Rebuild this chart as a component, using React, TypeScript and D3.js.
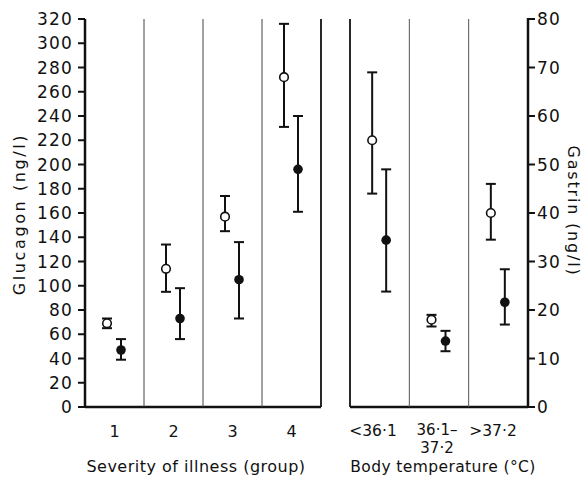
import React from "react";
import * as d3 from "d3";

const severityGroups = ["1", "2", "3", "4"];
const sevOpenMean = [69, 114, 157, 272];
const sevOpenLo = [65, 95, 145, 231];
const sevOpenHi = [73, 134, 174, 316];
const sevFilledMean = [47, 73, 105, 196];
const sevFilledLo = [39, 56, 73, 161];
const sevFilledHi = [56, 98, 136, 240];

const tempGroups = ["<36·1", "36·1–37·2", ">37·2"];
const tempOpenMean = [55, 18, 40];
const tempOpenLo = [44, 16.6, 34.5];
const tempOpenHi = [69, 19, 46];
const tempFilledMean = [34.4, 13.6, 21.6];
const tempFilledLo = [23.8, 11.5, 17];
const tempFilledHi = [49, 15.7, 28.4];

const glucagonTicks = d3.range(0, 321, 20);
const gastrinTicks = d3.range(0, 81, 10);

const FONT = "'DejaVu Sans', sans-serif";

export default function App() {
  const top = 19;
  const bottom = 407;
  const yGlu = d3.scaleLinear().domain([0, 320]).range([bottom, top]);
  const yGas = d3.scaleLinear().domain([0, 80]).range([bottom, top]);
  const xSev = d3.scaleBand<string>().domain(severityGroups).range([85, 321]);
  const xTemp = d3.scaleBand<string>().domain(tempGroups).range([350, 528]);
  const openOff = -7.5;
  const fillOff = 6.5;
  const cap = 5;

  const errBar = (x: number, lo: number, hi: number, key: string) => (
    <g key={key} stroke="#111" strokeWidth={2}>
      <line x1={x} x2={x} y1={lo} y2={hi} />
      <line x1={x - cap} x2={x + cap} y1={lo} y2={lo} />
      <line x1={x - cap} x2={x + cap} y1={hi} y2={hi} />
    </g>
  );

  return (
    <svg
      width={585}
      height={479}
      style={{ position: "absolute", left: 0, top: 0, background: "#fff" }}
      fontFamily={FONT}
    >
      <rect width={585} height={479} fill="#fff" />
      {/* left panel frame */}
      <line x1={85} x2={85} y1={top} y2={bottom + 1} stroke="#111" strokeWidth={2.5} />
      <line x1={85} x2={321} y1={bottom} y2={bottom} stroke="#111" strokeWidth={2.5} />
      <line x1={321} x2={321} y1={top} y2={bottom} stroke="#111" strokeWidth={1.8} />
      {severityGroups.slice(1).map((g) => (
        <line key={g} x1={xSev(g)!} x2={xSev(g)!} y1={top} y2={bottom} stroke="#444" strokeWidth={1} />
      ))}
      {glucagonTicks.map((t) => (
        <g key={t}>
          <line x1={78} x2={85} y1={yGlu(t)} y2={yGlu(t)} stroke="#111" strokeWidth={2} />
          <text x={73} y={yGlu(t)} dy="0.36em" textAnchor="end" fontSize={17} letterSpacing={1.2} fill="#111">
            {t}
          </text>
        </g>
      ))}
      {severityGroups.map((g) => (
        <text key={g} x={xSev(g)! + xSev.bandwidth() / 2} y={437} textAnchor="middle" fontSize={16} fill="#111">
          {g}
        </text>
      ))}
      <text x={196} y={472} textAnchor="middle" fontSize={16} fill="#111" letterSpacing={0.5}>
        Severity of illness (group)
      </text>
      <text transform="translate(25,214) rotate(-90)" textAnchor="middle" fontSize={16} fill="#111" letterSpacing={2.6}>
        Glucagon (ng/l)
      </text>

      {/* right panel frame */}
      <line x1={350} x2={350} y1={top} y2={bottom} stroke="#111" strokeWidth={1.8} />
      <line x1={350} x2={528} y1={bottom} y2={bottom} stroke="#111" strokeWidth={2.5} />
      <line x1={528} x2={528} y1={top - 1} y2={bottom + 1} stroke="#111" strokeWidth={2.5} />
      {tempGroups.slice(1).map((g) => (
        <line key={g} x1={xTemp(g)!} x2={xTemp(g)!} y1={top} y2={bottom} stroke="#555" strokeWidth={1} />
      ))}
      {gastrinTicks.map((t) => (
        <g key={t}>
          <line x1={528} x2={535} y1={yGas(t)} y2={yGas(t)} stroke="#111" strokeWidth={2} />
          <text x={537} y={yGas(t)} dy="0.36em" textAnchor="start" fontSize={17} letterSpacing={1.2} fill="#111">
            {t}
          </text>
        </g>
      ))}
      <text x={373} y={436} textAnchor="middle" fontSize={15.5} fill="#111">{tempGroups[0]}</text>
      <text x={437} y={435} textAnchor="middle" fontSize={15} fill="#111">36·1–</text>
      <text x={437} y={453} textAnchor="middle" fontSize={15} fill="#111">37·2</text>
      <text x={493} y={436} textAnchor="middle" fontSize={15.5} fill="#111">{tempGroups[2]}</text>
      <text x={443} y={472} textAnchor="middle" fontSize={15.5} fill="#111" letterSpacing={0.4}>
        Body temperature (°C)
      </text>
      <text transform="translate(568,211) rotate(90)" textAnchor="middle" fontSize={16} fill="#111" letterSpacing={1.8}>
        Gastrin (ng/l)
      </text>

      {/* severity data */}
      {severityGroups.map((g, i) => {
        const c = xSev(g)! + xSev.bandwidth() / 2;
        return (
          <g key={"s" + g}>
            {errBar(c + openOff, yGlu(sevOpenLo[i]), yGlu(sevOpenHi[i]), "o")}
            <circle cx={c + openOff} cy={yGlu(sevOpenMean[i])} r={4.3} fill="#fff" stroke="#111" strokeWidth={1.6} />
            {errBar(c + fillOff, yGlu(sevFilledLo[i]), yGlu(sevFilledHi[i]), "f")}
            <circle cx={c + fillOff} cy={yGlu(sevFilledMean[i])} r={4.8} fill="#111" />
          </g>
        );
      })}
      {/* temperature data */}
      {tempGroups.map((g, i) => {
        const c = xTemp(g)! + xTemp.bandwidth() / 2;
        return (
          <g key={"t" + i}>
            {errBar(c + openOff, yGas(tempOpenLo[i]), yGas(tempOpenHi[i]), "o")}
            <circle cx={c + openOff} cy={yGas(tempOpenMean[i])} r={4.3} fill="#fff" stroke="#111" strokeWidth={1.6} />
            {errBar(c + fillOff, yGas(tempFilledLo[i]), yGas(tempFilledHi[i]), "f")}
            <circle cx={c + fillOff} cy={yGas(tempFilledMean[i])} r={4.8} fill="#111" />
          </g>
        );
      })}
    </svg>
  );
}
